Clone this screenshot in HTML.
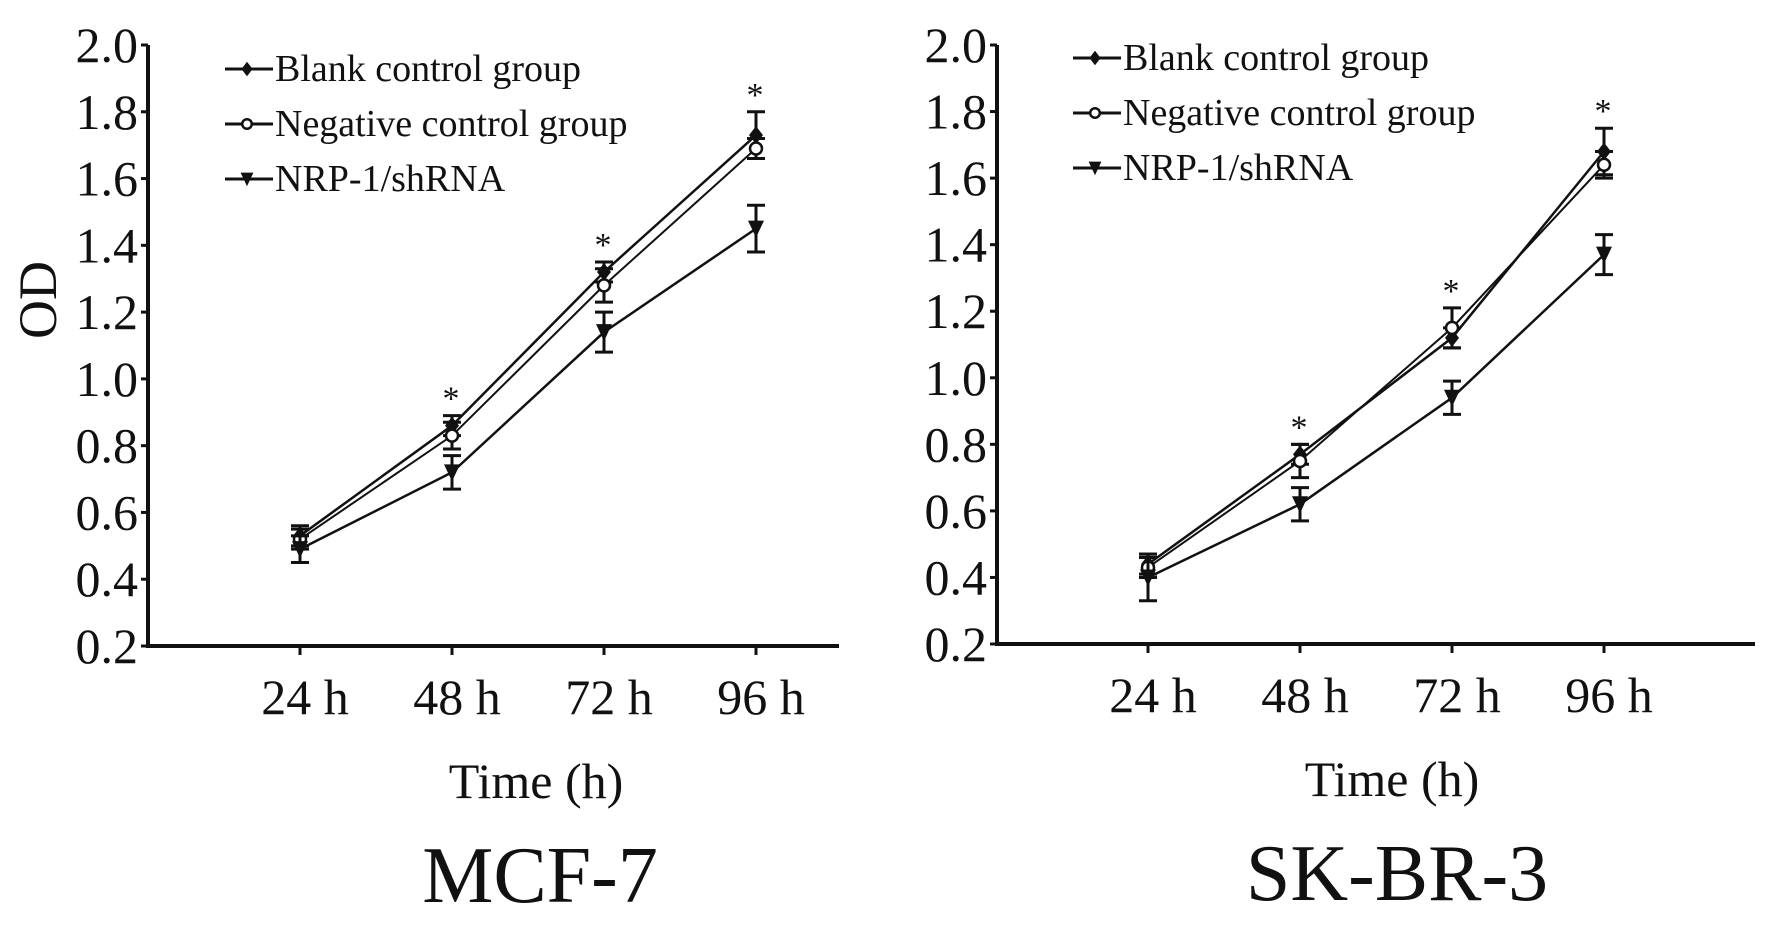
<!DOCTYPE html>
<html><head><meta charset="utf-8"><style>
html,body{margin:0;padding:0;background:#fff;}
svg{display:block;font-family:"Liberation Serif",serif;}
</style></head><body>
<svg id="chart" width="1772" height="927" viewBox="0 0 1772 927" xmlns="http://www.w3.org/2000/svg"></svg>
<script>
const categories = ["24 h","48 h","72 h","96 h"];
const yTicks = [0.2,0.4,0.6,0.8,1.0,1.2,1.4,1.6,1.8,2.0];
const seriesNames = ["Blank control group","Negative control group","NRP-1/shRNA"];
const mcfBlank = [0.53,0.86,1.32,1.73];
const mcfBlankErr = [0.03,0.03,0.03,0.07];
const mcfNeg = [0.52,0.83,1.28,1.69];
const mcfNegErr = [0.03,0.04,0.05,0.03];
const mcfSh = [0.49,0.72,1.14,1.45];
const mcfShErr = [0.04,0.05,0.06,0.07];
const skBlank = [0.44,0.77,1.12,1.68];
const skBlankErr = [0.03,0.03,0.03,0.07];
const skNeg = [0.43,0.75,1.15,1.64];
const skNegErr = [0.03,0.05,0.06,0.04];
const skSh = [0.40,0.62,0.94,1.37];
const skShErr = [0.07,0.05,0.05,0.06];

const NS="http://www.w3.org/2000/svg";
const svg=document.getElementById('chart');
function mk(tag,attrs,parent){const e=document.createElementNS(NS,tag);for(const k in attrs)e.setAttribute(k,attrs[k]);(parent||svg).appendChild(e);return e;}

function panel(cfg){
  const g=mk('g',{});
  
  
  const y=v=>cfg.y0+(v-0.2)/(1.8)*(cfg.y1-cfg.y0);
  const x=i=>cfg.xs[0]+i*(cfg.xs[1]-cfg.xs[0]);
  const ax=mk('path',{d:`M${cfg.ax} ${y(2.0)} V${cfg.y0} H${cfg.xEnd}`,stroke:'#111',fill:'none','stroke-width':4},g);
  
  
  yTicks.forEach(t=>{
    mk('line',{x1:cfg.ax-7,x2:cfg.ax,y1:y(t),y2:y(t),stroke:'#111','stroke-width':3},g);
    const tx=mk('text',{x:cfg.ax-10,y:y(t)+17,'text-anchor':'end','font-size':50,fill:'#111'},g);
    tx.textContent=t.toFixed(1);
    
    
  });
  categories.forEach((c,i)=>{
    mk('line',{x1:x(i),x2:x(i),y1:cfg.y0,y2:cfg.y0+9,stroke:'#111','stroke-width':3},g);
    const tx=mk('text',{x:x(i)+5,y:cfg.y0+68,'text-anchor':'middle','font-size':50,fill:'#111'},g);
    tx.textContent=c;
    
    
  });
  const series=[[cfg.blank,cfg.blankErr,'diamond'],[cfg.neg,cfg.negErr,'circle'],[cfg.sh,cfg.shErr,'tri']];
  series.forEach((s,si)=>{
    const vals=s[0],errs=s[1];
    const pl=mk('polyline',{points:vals.map((v,i)=>x(i)+','+y(v)).join(' '),fill:'none',stroke:'#111','stroke-width':si==1?2:2.5},g);
    
    
    vals.forEach((v,i)=>{
      const e=errs[i];
      mk('path',{d:`M${x(i)} ${y(v-e)} V${y(v+e)} M${x(i)-9} ${y(v+e)} H${x(i)+9} M${x(i)-9} ${y(v-e)} H${x(i)+9}`,stroke:'#111','stroke-width':3,fill:'none'},g);
      marker(g,s[2],x(i),y(v));
    });
  });
  categories.forEach((c,i)=>{
    if(i==0)return;
    const top=Math.max(cfg.blank[i]+cfg.blankErr[i],cfg.neg[i]+cfg.negErr[i]);
    const st=mk('text',{x:x(i)-1,y:y(top)-6,'text-anchor':'middle','font-size':34,fill:'#111'},g);
    st.textContent='*';
    
    
  });
  seriesNames.forEach((n,i)=>{
    const ly=cfg.leg[1]+i*cfg.leg[2];
    const le=mk('g',{},g);
    
    
    mk('line',{x1:cfg.leg[0],x2:cfg.leg[0]+48,y1:ly,y2:ly,stroke:'#111','stroke-width':3},le);
    marker(le,['diamond','circle','tri'][i],cfg.leg[0]+22,ly,0.8);
    const t=mk('text',{x:cfg.leg[0]+50,y:ly+12,'font-size':38,fill:'#111'},le);
    t.textContent=n;
  });
  const tt=mk('text',{x:cfg.titleX,y:cfg.y0+152,'text-anchor':'middle','font-size':50,fill:'#111'},g);
  tt.textContent='Time (h)';
  
  
  const pt=mk('text',{x:cfg.nameX,y:cfg.y0+256,'text-anchor':'middle','font-size':80,fill:'#111'},g);
  pt.textContent=cfg.label;
  
  
}
function marker(g,type,cx,cy,s){
  s=s||1;
  if(type=='diamond') mk('path',{d:`M${cx} ${cy-9*s} L${cx+7*s} ${cy} L${cx} ${cy+9*s} L${cx-7*s} ${cy}Z`,fill:'#111'},g);
  else if(type=='circle') mk('circle',{cx:cx,cy:cy,r:6*s,fill:'#fff',stroke:'#111','stroke-width':2.5},g);
  else mk('path',{d:`M${cx-8*s} ${cy-8*s} L${cx+8*s} ${cy-8*s} L${cx} ${cy+9*s}Z`,fill:'#111'},g);
}
panel({name:'mcf7-panel',label:'MCF-7',ax:148,xEnd:839,y0:646,y1:45,xs:[300,452],blank:mcfBlank,blankErr:mcfBlankErr,neg:mcfNeg,negErr:mcfNegErr,sh:mcfSh,shErr:mcfShErr,leg:[225,69,55],titleX:536,nameX:540});
panel({name:'skbr3-panel',label:'SK-BR-3',ax:997,xEnd:1755,y0:644,y1:45,xs:[1148,1300],blank:skBlank,blankErr:skBlankErr,neg:skNeg,negErr:skNegErr,sh:skSh,shErr:skShErr,leg:[1073,58,55],titleX:1392,nameX:1397});
const od=mk('text',{x:0,y:0,'text-anchor':'middle','font-size':54,fill:'#111',transform:'translate(56,300) rotate(-90)'});
od.textContent='OD';


</script>
</body></html>
